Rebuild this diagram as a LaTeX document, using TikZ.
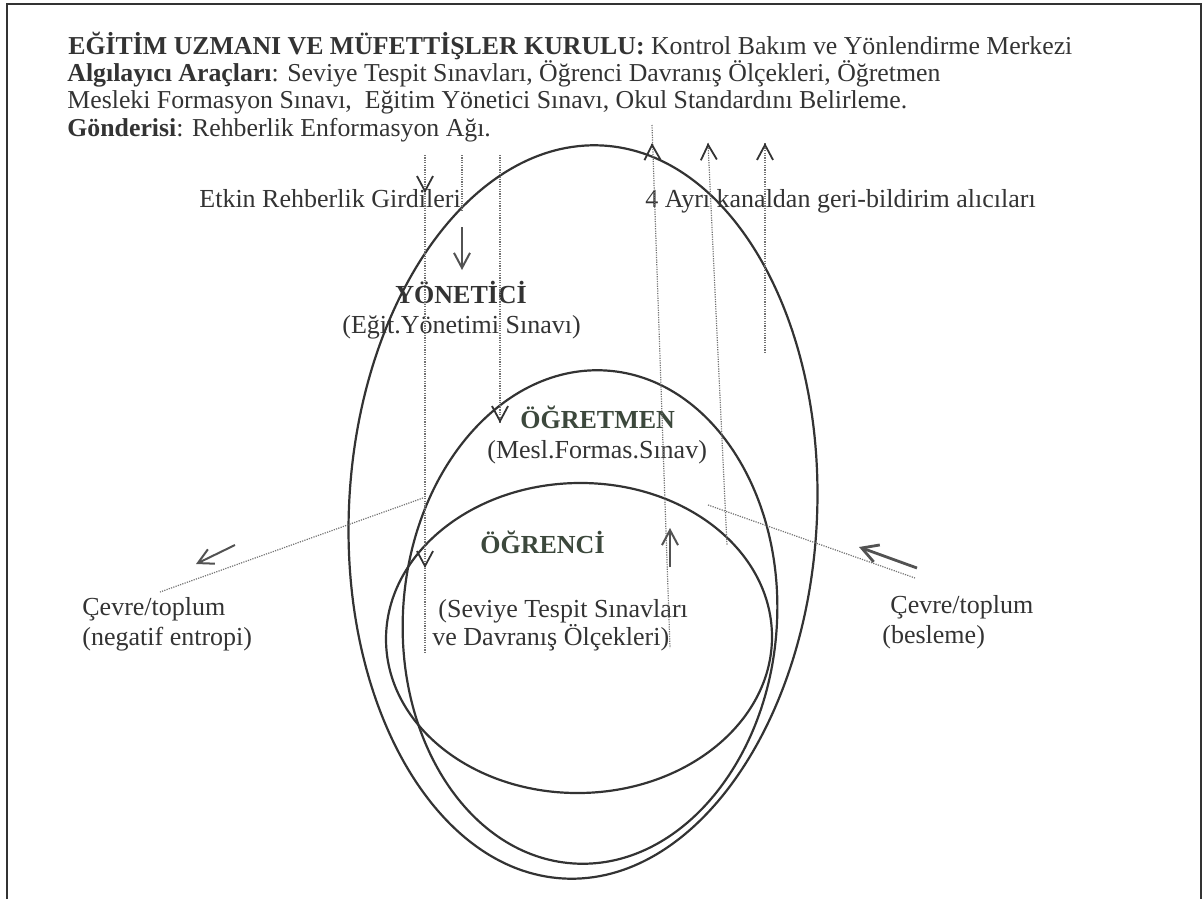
\documentclass[tikz,border=0pt]{standalone}
\usepackage{fontspec}
\setmainfont{Liberation Serif}
\usetikzlibrary{arrows.meta,calc}
\definecolor{ink}{HTML}{333333}
\definecolor{lbl}{HTML}{3C483C}
\begin{document}
\begin{tikzpicture}[x=0.5pt,y=-0.5pt,
  font=\fontsize{13}{13.5}\selectfont,
  txt/.style={anchor=base west, inner sep=0pt, text=ink},
  hdr/.style={txt, font=\fontsize{12.9}{13.5}\selectfont},
  head/.style={txt, font=\fontsize{13}{13.5}\selectfont\bfseries},
  ring/.style={draw=ink, line width=1.1pt},
  dotline/.style={draw=black!55, line width=0.6pt, dash pattern=on 0.6pt off 0.6pt},
  barb/.style={draw=ink, line width=0.9pt, -{Straight Barb[length=7.5pt,width=8pt]}},
  solidarrow/.style={draw=ink!85, line width=1pt, -{Straight Barb[length=7.5pt,width=8pt]}},
  thickarrow/.style={draw=ink!85, line width=1.4pt, -{Straight Barb[length=8pt,width=9pt]}},
  frame/.style={draw=ink, line width=1.3pt}]
\useasboundingbox (0,0) rectangle (1204,899);
% frame
\draw[frame] (7,899) -- (7,4) -- (1201,4) -- (1201,899);
% header text
\node[hdr] (h1) at (68,55) {\textbf{EĞİTİM UZMANI VE MÜFETTİŞLER KURULU:} Kontrol Bakım ve Yönlendirme Merkezi};
\node[hdr] (h2) at (67,82) {\textbf{Algılayıcı Araçları}: Seviye Tespit Sınavları, Öğrenci Davranış Ölçekleri, Öğretmen};
\node[hdr] (h3) at (67,109) {Mesleki Formasyon Sınavı,\ \ Eğitim Yönetici Sınavı, Okul Standardını Belirleme.};
\node[hdr] (h4) at (67,136) {\textbf{Gönderisi}: Rehberlik Enformasyon Ağı.};
% ellipses
\begin{scope}[shift={(583,512)}, rotate=-3]
  \draw[ring] (0,0) ellipse [x radius=117pt, y radius=183.5pt];
\end{scope}
\begin{scope}[shift={(590,617)}, rotate=-4]
  \draw[ring] (0,0) ellipse [x radius=93.5pt, y radius=123.5pt];
\end{scope}
\begin{scope}[shift={(579,638)}, rotate=1]
  \draw[ring] (0,0) ellipse [x radius=96.5pt, y radius=77.5pt];
\end{scope}
% labels
\node[txt] (in) at (199,207) {Etkin Rehberlik Girdileri};
\node[txt] (fb) at (645,207) {4 Ayrı kanaldan geri-bildirim alıcıları};
\node[head] (yon) at (395,303) {YÖNETİCİ};
\node[txt] (yons) at (342,333) {(Eğit.Yönetimi Sınavı)};
\node[head, text=lbl] (ogt) at (520,428) {ÖĞRETMEN};
\node[txt] (ogts) at (487,458) {(Mesl.Formas.Sınav)};
\node[head, text=lbl] (ogr) at (480,553) {ÖĞRENCİ};
\node[txt] (ogrs1) at (438,617) {(Seviye Tespit Sınavları};
\node[txt] (ogrs2) at (432,645) {ve Davranış Ölçekleri)};
\node[txt] (envl1) at (82,615) {Çevre/toplum};
\node[txt] (envl2) at (82,645) {(negatif entropi)};
\node[txt] (envr1) at (890,613) {Çevre/toplum};
\node[txt] (envr2) at (882,643) {(besleme)};
% coordinates
\coordinate (a1) at (425,155); \coordinate (a2) at (425,653);
\coordinate (at1) at (425,193); \coordinate (at2) at (425,568);
\coordinate (b1) at (462,155); \coordinate (b2) at (462,212);
\coordinate (bs) at (462,227); \coordinate (bt) at (462,270);
\coordinate (c1) at (500,155); \coordinate (c2) at (500,423);
\coordinate (d1) at (652,125); \coordinate (d2) at (670,648);
\coordinate (dt) at (652,143); \coordinate (ds) at (670,567); \coordinate (de) at (670,528);
\coordinate (e1) at (708,143); \coordinate (e2) at (727,545);
\coordinate (f1) at (765,143); \coordinate (f2) at (765,353);
\coordinate (l1) at (423,498); \coordinate (l2) at (160,592);
\coordinate (ls) at (235,545); \coordinate (le) at (196,564);
\coordinate (r1) at (708,505); \coordinate (r2) at (915,578);
\coordinate (rs) at (917,568); \coordinate (re) at (859,547);
% dotted lines
\draw[dotline] (a1) -- (a2);
\draw[dotline] (b1) -- (b2);
\draw[dotline] (c1) -- (c2);
\draw[dotline] (d1) -- (d2);
\draw[dotline] (e1) -- (e2);
\draw[dotline] (f1) -- (f2);
\draw[dotline] (l1) -- (l2);
\draw[dotline] (r1) -- (r2);
% arrow heads on dotted lines
\draw[barb] ($(at1)+(0,-1)$) -- (at1);
\draw[barb] ($(at2)+(0,-1)$) -- (at2);
\draw[barb] ($(c2)+(0,-1)$) -- (c2);
\draw[barb] ($(dt)+(0.03,1)$) -- (dt);
\draw[barb] ($(e1)+(0.05,1)$) -- (e1);
\draw[barb] ($(f1)+(0,1)$) -- (f1);
% solid arrows
\draw[solidarrow] (bs) -- (bt);
\draw[solidarrow] (ds) -- (de);
\draw[solidarrow] (ls) -- (le);
\draw[thickarrow] (rs) -- (re);
\end{tikzpicture}
\end{document}
